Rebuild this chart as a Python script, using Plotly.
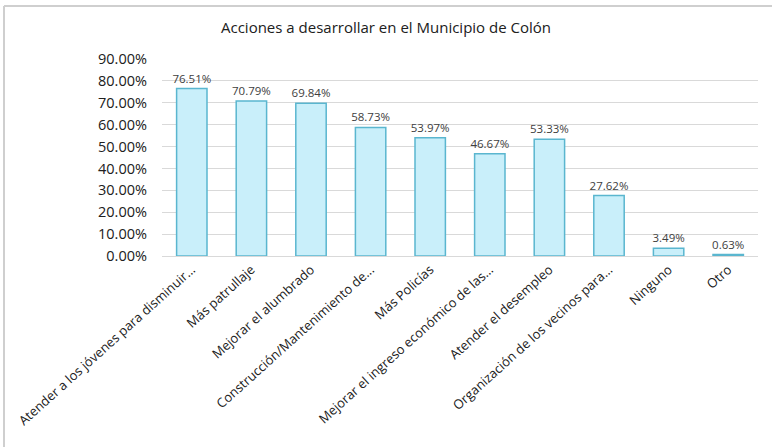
import plotly.graph_objects as go

categorias = [
    "Atender a los jóvenes para disminuir...",
    "Más patrullaje",
    "Mejorar el alumbrado",
    "Construcción/Mantenimiento de...",
    "Más Policías",
    "Mejorar el ingreso económico de las...",
    "Atender el desempleo",
    "Organización de los vecinos para...",
    "Ninguno",
    "Otro",
]
porcentajes = [76.51, 70.79, 69.84, 58.73, 53.97, 46.67, 53.33, 27.62, 3.49, 0.63]
y_ticks = [0, 10, 20, 30, 40, 50, 60, 70, 80, 90]

fig = go.Figure()
fig.add_trace(go.Bar(
    x=categorias,
    y=porcentajes,
    text=[f"{v:.2f}%" for v in porcentajes],
    textposition="outside",
    constraintext="none",
    textfont=dict(size=11.5, color="#404040", family="Open Sans"),
    marker=dict(color="#c9effa", line=dict(color="#5ab6cf", width=1.5)),
    width=0.51,
    cliponaxis=False,
))

fig.update_layout(
    width=772,
    height=447,
    margin=dict(l=162, r=14, t=59, b=191),
    paper_bgcolor="white",
    plot_bgcolor="white",
    showlegend=False,
    title=dict(
        text="Acciones a desarrollar en el Municipio de Colón",
        x=0.5, xref="container", y=1 - 28 / 447, yref="container",
        xanchor="center", yanchor="middle",
        font=dict(size=15, color="#202020", family="Open Sans"),
    ),
    font=dict(family="Open Sans", color="#202020"),
    xaxis=dict(
        tickangle=-42,
        tickfont=dict(size=13, color="#202020"),
        showline=True, linecolor="#d9d9d9", linewidth=1,
        showgrid=False,
        automargin=False,
    ),
    yaxis=dict(
        range=[0, 90],
        tickvals=y_ticks,
        ticktext=[f"{v:.2f}%" for v in y_ticks],
        tickfont=dict(size=14.5, color="#202020"),
        showgrid=True, gridcolor="#d9d9d9", gridwidth=1,
        zeroline=False,
        ticklabelstandoff=14,
        automargin=False,
    ),
)

# marco del gráfico (solo borde superior e izquierdo)
marco_y = (256 - 6) / 197
marco_x = (4 - 162) / 596
fig.add_shape(type="line", xref="paper", yref="paper",
              x0=marco_x, x1=(772 - 162) / 596, y0=marco_y, y1=marco_y,
              line=dict(color="#cfcfcf", width=2))
fig.add_shape(type="line", xref="paper", yref="paper",
              x0=marco_x, x1=marco_x, y0=marco_y, y1=(256 - 447) / 197,
              line=dict(color="#cfcfcf", width=2))

fig.write_html(
    "out.html",
    config={"displayModeBar": False},
    post_script="document.body.style.margin='0';",
)
